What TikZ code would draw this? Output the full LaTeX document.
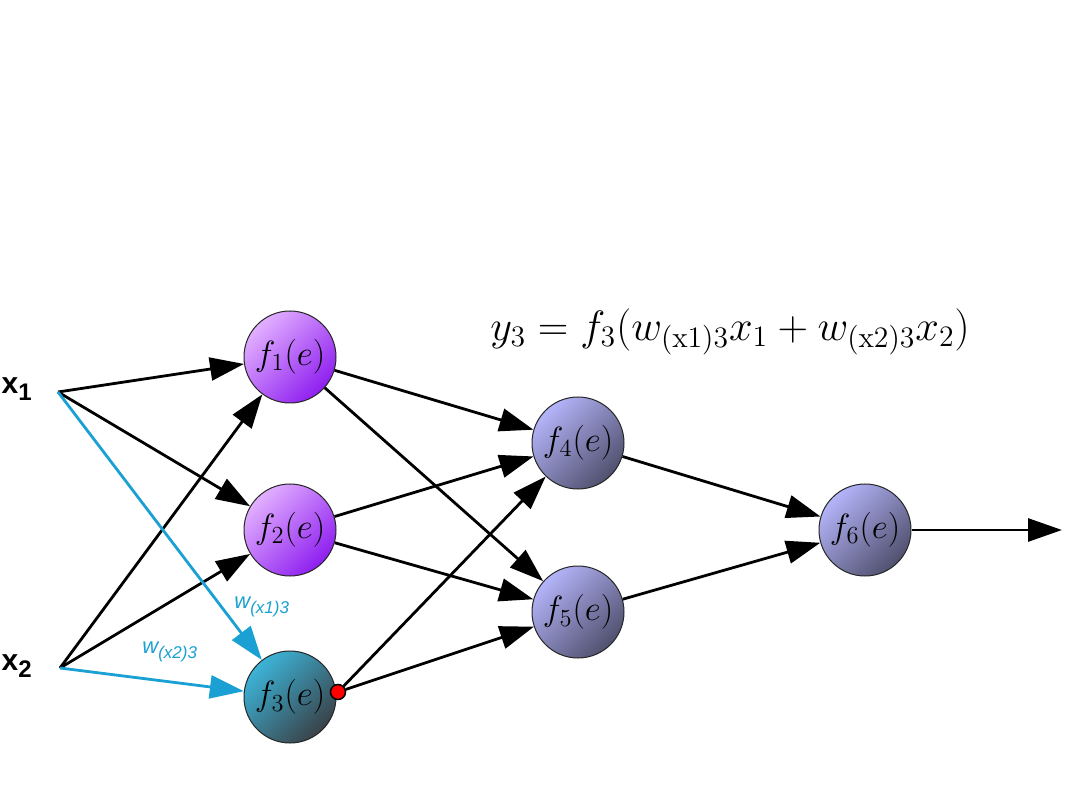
\RequirePackage{fix-cm}
\documentclass[tikz,border=0pt]{standalone}
\usepackage{fontspec}
\setsansfont{Liberation Sans}
\usetikzlibrary{arrows.meta}

\definecolor{wblue}{HTML}{1AA0D2}
\definecolor{violetlight}{HTML}{E2B0FF}
\definecolor{violetdark}{HTML}{8E1EF0}
\definecolor{lavlight}{HTML}{B4B4FA}
\definecolor{lavdark}{HTML}{50506E}
\definecolor{teallight}{HTML}{3CB4D8}
\definecolor{tealdark}{HTML}{3A4248}

\newcommand{\actfn}[1]{\scalebox{1.75}{$f_{#1}(e)$}}

\tikzset{
  neuron/.style={circle, draw=black!85, line width=1pt, minimum size=92pt, inner sep=0pt,
    font=\fontsize{20}{22}\selectfont},
  firstlayer/.style={neuron, top color=violetlight, bottom color=violetdark, shading angle=45},
  nextlayer/.style={neuron, top color=lavlight, bottom color=lavdark, shading angle=45},
  actneuron/.style={neuron, top color=teallight, bottom color=tealdark, shading angle=45},
  link/.style={-{Triangle[length=34pt,width=23pt]}, line width=2.8pt},
  wlink/.style={link, wblue},
  inlabel/.style={font=\sffamily\bfseries\fontsize{30}{32}\selectfont},
  wlabel/.style={text=wblue, font=\sffamily\itshape\fontsize{22}{24}\selectfont}
}

\begin{document}
\begin{tikzpicture}[x=1pt, y=-1pt]
\useasboundingbox (0,0) rectangle (1080,810);

% Define nodes
\node[firstlayer] (f1) at (290,357) {\actfn{1}};
\node[firstlayer] (f2) at (290,530) {\actfn{2}};
\node[actneuron] (f3) at (290,697) {\actfn{3}};
\node[nextlayer] (f4) at (578,443) {\actfn{4}};
\node[nextlayer] (f5) at (578,612) {\actfn{5}};
\node[nextlayer] (f6) at (865,530) {\actfn{6}};

\node[inlabel] (x1lbl) at (17,389) {x\textsubscript{\fontsize{24}{26}\selectfont 1}};
\node[inlabel] (x2lbl) at (17,666) {x\textsubscript{\fontsize{24}{26}\selectfont 2}};
\coordinate (x1) at (58,392);
\coordinate (x2) at (60,668);
\coordinate (out) at (1062,530);

\node[circle, fill=red, draw=black, line width=1.5pt, minimum size=15pt, inner sep=0pt] (dot) at (338,692) {};

\node[font=\fontsize{20}{22}\selectfont] (eq) at (730,332)
  {\scalebox{2.12}{$y_3 = f_3\big(w_{\mathrm{(x1)3}}x_1 + w_{\mathrm{(x2)3}}x_2\big)$}};

% Draw arrows
\draw[link] (x1) -- (f1);
\draw[link] (x1) -- (f2);
\draw[link] (x2) -- (f1);
\draw[link] (x2) -- (f2);
\draw[wlink] (x1) -- (f3);
\draw[wlink] (x2) -- (f3);

\draw[link] (f1) -- (f4);
\draw[link] (f1) -- (f5);
\draw[link] (f2) -- (f4);
\draw[link] (f2) -- (f5);
\draw[link] (dot) -- (f4);
\draw[link] (dot) -- (f5);

\draw[link] (f4) -- (f6);
\draw[link] (f5) -- (f6);
\draw[link] (f6) -- (out);

% Weight labels
\node[wlabel] (w13) at (262,607) {w\textsubscript{\fontsize{17}{19}\selectfont(x1)3}};
\node[wlabel] (w23) at (170,652) {w\textsubscript{\fontsize{17}{19}\selectfont(x2)3}};

\end{tikzpicture}
\end{document}
